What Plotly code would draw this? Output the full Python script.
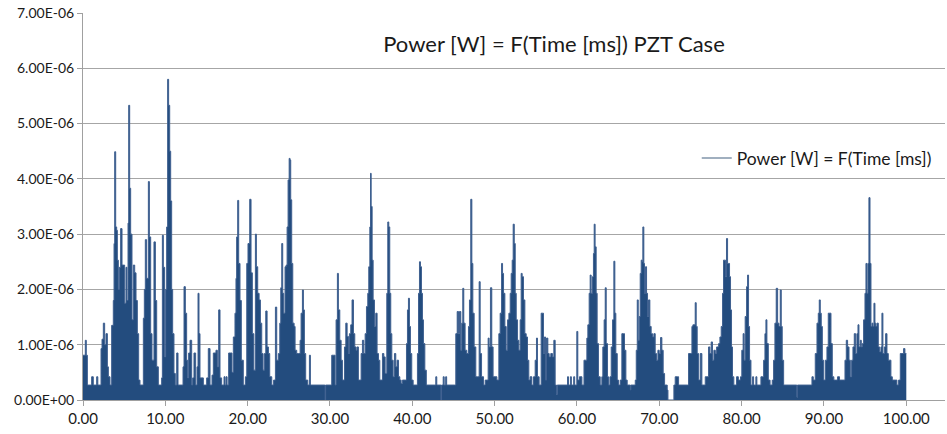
import plotly.graph_objects as go

# Power envelope: (time [ms], power [uW])
seg_0_20 = [(0.00,0.81),(0.28,1.08),(0.40,0.81),(0.53,0.27),(1.05,0.42),(1.25,0.27),(1.66,0.42),(1.80,0.27),
    (2.19,0.93),(2.31,1.10),(2.47,1.39),(2.63,1.00),(2.79,1.20),(2.96,0.60),(3.08,0.42),(3.28,0.27),(3.48,1.35),
    (3.68,1.80),(3.77,2.83),(3.85,4.49),(3.97,3.13),(4.09,3.07),(4.17,2.53),(4.29,2.00),(4.41,2.40),(4.57,3.10),
    (4.74,2.44),(4.90,2.44),(5.06,1.75),(5.22,2.40),(5.34,1.80),(5.47,3.20),(5.55,5.33),(5.67,3.83),(5.79,3.00),
    (5.95,1.45),(6.11,2.44),(6.28,2.30),(6.44,1.80),(6.60,1.20),(6.76,0.36),(6.92,0.27),(7.33,1.48),(7.45,2.00),
    (7.57,2.90),(7.73,2.20),(7.94,3.95),(8.06,2.95),(8.22,1.20),(8.38,0.72),(8.62,2.86),(8.79,1.80),(8.95,0.60),
    (9.15,0.27),(9.55,0.40),(9.64,2.98),(9.76,2.40),(9.92,0.78),(10.04,2.00),(10.16,3.13),(10.28,5.80),(10.40,5.33),
    (10.53,4.50),(10.65,3.60),(10.77,2.00),(10.89,1.20),(11.05,0.48),(11.21,0.27),(11.38,0.85),(11.54,0.27),
    (12.15,0.60),(12.27,2.05),(12.43,1.57),(12.59,0.72),(12.71,0.40),(12.83,0.85),(13.00,1.08),(13.20,0.27),
    (13.32,0.40),(13.48,0.85),(13.68,0.27),(13.85,0.60),(13.97,1.93),(14.09,1.20),(14.21,0.40),(14.62,0.27),
    (15.02,0.40),(15.22,0.93),(15.43,0.27),(15.67,0.45),(15.83,0.85),(16.15,0.90),(16.32,0.60),(16.48,1.63),
    (16.64,0.40),(16.84,0.27),(17.13,0.42),(17.25,0.27),(17.37,0.42),(17.50,0.27),(17.69,0.85),(17.94,0.85),
    (18.10,0.50),(18.26,1.14),(18.46,1.57),(18.58,2.20),(18.66,2.95),(18.79,3.61),(18.91,2.47),(19.07,1.80),
    (19.23,0.72),(19.47,0.27),(19.72,0.42)]

seg_20_40 = [(19.89,2.47),(20.04,2.83),(20.25,3.63),(20.41,2.30),(20.57,1.20),(20.75,0.54),(20.94,3.00),
    (21.06,2.41),(21.22,1.93),(21.39,1.81),(21.55,1.39),(21.71,0.84),(21.87,0.54),(22.03,0.84),(22.20,1.61),
    (22.36,0.96),(22.52,0.84),(22.68,0.42),(22.93,0.27),(23.15,0.36),(23.37,1.68),(23.53,0.72),(23.73,0.84),
    (23.90,1.39),(24.02,2.03),(24.14,2.83),(24.26,1.93),(24.38,1.57),(24.54,2.41),(24.67,2.44),(24.79,3.13),
    (24.91,3.98),(25.04,4.37),(25.15,4.34),(25.23,3.62),(25.35,2.47),(25.48,1.39),(25.64,1.33),(25.76,0.90),
    (25.96,0.84),(26.16,0.84),(26.37,1.08),(26.49,1.57),(26.65,1.99),(26.77,1.63),(26.89,0.84),(27.05,0.36),
    (27.30,0.27),(27.50,0.81),(27.62,0.27),(29.35,0.27),(29.41,0.00),(29.47,0.27),(30.21,0.81),(30.42,0.81),
    (30.62,0.27),(30.74,1.45),(30.90,2.29),(31.02,1.63),(31.19,1.08),(31.35,0.72),(31.51,0.36),(31.76,0.96),
    (31.92,1.39),(32.08,1.15),(32.24,0.84),(32.36,1.20),(32.52,1.36),(32.68,1.81),(32.85,1.20),(33.01,0.96),
    (33.17,0.90),(33.29,0.96),(33.45,0.36),(33.62,0.36),(33.78,0.84),(33.94,1.08),(34.10,0.84),(34.27,1.20),
    (34.43,1.69),(34.59,1.93),(34.71,2.41),(34.84,3.13),(34.92,4.10),(35.00,3.50),(35.12,2.53),(35.24,1.81),
    (35.40,1.33),(35.56,1.57),(35.72,0.84),(35.89,0.72),(36.05,0.36),(36.21,0.36),(36.37,0.84),(36.54,0.78),
    (36.70,0.48),(36.90,1.93),(37.02,3.22),(37.14,3.13),(37.26,1.93),(37.38,1.20),(37.51,0.72),(37.67,0.42),
    (37.83,0.84),(37.99,0.60),(38.15,0.72),(38.32,0.42),(38.48,0.36),(38.64,0.30),(38.80,0.36),(39.13,0.36),
    (39.29,1.02),(39.41,1.63),(39.53,1.84),(39.65,1.33),(39.77,0.84),(39.93,0.36)]

seg_40_60 = [(40.10,0.27),(40.62,0.84),(40.75,1.93),(40.87,2.50),(40.99,2.41),(41.11,1.93),(41.23,1.45),
    (41.35,1.02),(41.52,0.54),(41.70,0.27),(42.85,0.42),(42.97,0.27),(43.48,0.00),(43.55,0.27),(43.75,0.42),
    (43.87,0.27),(44.05,0.42),(44.17,0.27),(45.16,0.27),(45.28,1.20),(45.45,1.60),(45.61,1.20),(45.73,1.60),
    (45.89,0.90),(46.00,1.39),(46.13,2.02),(46.25,1.39),(46.41,0.90),(46.62,0.84),(46.82,1.33),(46.94,1.81),
    (47.10,3.63),(47.23,2.47),(47.35,1.57),(47.51,0.96),(47.71,0.42),(47.92,0.42),(48.12,2.14),(48.24,0.84),
    (48.41,0.42),(48.65,0.27),(48.85,0.36),(49.05,0.36),(49.21,1.12),(49.33,0.96),(49.49,2.03),(49.65,0.96),
    (49.81,0.42),(50.05,0.42),(50.27,0.36),(50.51,1.20),(50.67,1.57),(50.84,2.47),(50.96,2.29),(51.08,1.93),
    (51.24,1.33),(51.40,0.90),(51.57,1.45),(51.73,1.57),(51.89,1.93),(52.01,2.29),(52.13,2.53),(52.25,3.18),
    (52.38,2.83),(52.50,1.93),(52.62,1.45),(52.78,1.08),(52.94,0.90),(53.10,1.45),(53.22,2.29),(53.34,2.23),
    (53.50,1.81),(53.67,1.20),(53.83,1.14),(53.99,0.72),(54.15,0.36),(54.31,0.42),(54.52,0.27),(54.72,0.42),
    (54.92,0.72),(55.08,1.12),(55.20,0.42),(55.40,0.27),(55.65,1.57),(55.81,1.57),(55.93,0.84),(56.05,1.14),
    (56.18,0.36),(56.30,1.12),(56.46,0.84),(56.62,0.78),(56.82,0.84),(57.02,0.78),(57.19,1.08),(57.35,0.27),
    (57.51,0.10),(57.60,0.27),(58.85,0.42),(58.97,0.27),(59.20,0.42),(59.32,0.27),(59.60,0.42),(59.72,0.27),
    (59.98,1.24),(60.10,0.36)]

seg_60_80 = [(60.30,0.42),(60.60,0.27),(60.85,0.72),(61.05,0.72),(61.20,1.12),(61.32,1.36),(61.48,1.93),
    (61.60,2.26),(61.72,1.93),(61.88,2.23),(62.00,2.65),(62.09,3.18),(62.20,2.77),(62.33,1.93),(62.45,1.02),
    (62.61,0.42),(62.82,0.27),(63.02,0.42),(63.14,0.96),(63.30,1.45),(63.43,2.03),(63.55,1.02),(63.71,0.42),
    (63.83,0.27),(64.00,0.42),(64.16,0.96),(64.32,1.45),(64.48,2.51),(64.60,1.57),(64.72,0.84),(64.89,0.36),
    (65.05,0.27),(65.25,0.36),(65.45,1.20),(65.65,1.20),(65.77,0.90),(65.94,0.36),(66.10,0.27),(66.48,0.18),
    (66.55,0.27),(67.08,0.36),(67.20,0.90),(67.32,1.81),(67.44,1.08),(67.56,1.51),(67.68,2.29),(67.80,2.53),
    (67.92,2.50),(68.00,3.13),(68.12,2.47),(68.20,1.93),(68.33,2.41),(68.45,1.93),(68.57,1.51),(68.69,1.81),
    (68.85,1.33),(69.01,1.20),(69.18,1.14),(69.34,1.20),(69.50,0.84),(69.66,0.72),(69.83,0.90),(69.99,0.84),
    (70.15,1.13),(70.31,0.90),(70.47,0.48),(70.64,0.27),(70.96,0.18),(71.05,0.00),(71.70,0.00),(71.77,0.27),
    (71.93,0.42),(72.20,0.42),(72.34,0.27),(73.40,0.27),(73.55,0.84),(73.75,0.84),(73.96,1.33),(74.08,1.36),
    (74.20,1.36),(74.36,1.76),(74.48,1.33),(74.60,0.84),(74.77,0.36),(74.97,0.84),(75.17,0.27),(75.58,0.42),
    (75.78,0.42),(75.98,0.96),(76.14,0.84),(76.30,1.05),(76.46,0.72),(76.63,0.90),(76.80,0.84),(76.96,0.96),
    (77.20,1.02),(77.36,1.14),(77.52,1.33),(77.68,1.93),(77.80,2.53),(77.92,2.53),(78.04,2.23),(78.16,2.92),
    (78.29,2.47),(78.41,2.47),(78.53,2.23),(78.65,1.63),(78.77,0.96),(78.89,0.42),(79.05,0.27),(79.38,0.42),
    (79.60,0.36),(79.86,0.42)]

seg_80_100 = [(80.02,0.90),(80.18,1.20),(80.30,0.72),(80.43,1.51),(80.60,2.05),(80.72,2.26),(80.84,1.33),
    (80.96,0.72),(81.13,0.27),(81.33,0.42),(81.45,0.27),(81.73,0.42),(81.85,0.27),(82.34,0.42),(82.50,0.42),
    (82.67,0.72),(82.83,1.20),(82.95,1.45),(83.07,1.02),(83.24,0.36),(83.45,0.27),(83.72,0.36),(83.88,0.72),
    (84.04,1.39),(84.20,2.02),(84.37,1.39),(84.53,1.33),(84.69,1.99),(84.81,1.33),(84.93,0.72),(85.10,0.27),
    (86.65,0.27),(86.71,0.05),(86.78,0.27),(88.54,0.42),(88.70,0.36),(88.94,0.84),(89.15,1.39),(89.31,1.57),
    (89.43,1.81),(89.55,1.57),(89.67,1.33),(89.80,0.72),(89.96,0.36),(90.16,0.72),(90.36,0.96),(90.52,1.57),
    (90.69,1.57),(90.85,1.02),(91.01,0.42),(91.20,0.36),(91.41,0.36),(91.65,0.42),(91.89,0.36),(92.30,0.36),
    (92.55,0.72),(92.71,1.08),(92.87,0.96),(93.04,0.72),(93.20,0.42),(93.36,0.72),(93.52,0.96),(93.68,1.20),
    (93.84,0.84),(94.00,1.20),(94.13,1.36),(94.25,0.96),(94.41,1.08),(94.53,0.96),(94.66,1.02),(94.81,1.45),
    (94.98,1.93),(95.10,2.47),(95.22,1.93),(95.34,2.47),(95.46,3.66),(95.59,2.47),(95.71,1.33),(95.83,1.39),
    (95.95,1.33),(96.07,1.75),(96.19,1.39),(96.31,1.33),(96.44,1.39),(96.60,0.96),(96.76,0.87),(96.92,0.96),
    (97.04,1.57),(97.16,0.84),(97.33,0.96),(97.49,1.20),(97.65,0.84),(97.81,0.72),(97.97,0.72),(98.13,0.42),
    (98.30,0.36),(98.66,0.36),(98.86,0.27),(99.06,0.36),(99.27,0.84),(99.47,0.84),(99.67,0.93),(99.83,0.84),
    (100.00,0.84)]

x_ticks = [0, 10, 20, 30, 40, 50, 60, 70, 80, 90, 100]
x_tick_labels = ["0.00", "10.00", "20.00", "30.00", "40.00", "50.00", "60.00", "70.00", "80.00", "90.00", "100.00"]
y_ticks_uw = [0, 1, 2, 3, 4, 5, 6, 7]
y_tick_labels = ["0.00E+00", "1.00E-06", "2.00E-06", "3.00E-06", "4.00E-06", "5.00E-06", "6.00E-06", "7.00E-06"]

series_name = "Power [W] = F(Time [ms])"
chart_title = "Power [W] = F(Time [ms]) PZT Case"

points = seg_0_20 + seg_20_40 + seg_40_60 + seg_60_80 + seg_80_100
time_ms = [p[0] for p in points]
power_w = [p[1] * 1e-6 for p in points]

FONT = "Lato, 'Open Sans', sans-serif"

fig = go.Figure()
fig.add_trace(go.Scatter(
    x=time_ms, y=power_w, mode="lines", line=dict(color="#3F6090", width=1, shape="hv"),
    fill="tozeroy", fillcolor="#234C7E", showlegend=False, hoverinfo="skip"))
# legend entry drawn as a plain line like the original
fig.add_trace(go.Scatter(
    x=[None], y=[None], mode="lines", name=series_name,
    line=dict(color="#8094AA", width=1.5), showlegend=True))

fig.update_layout(
    width=947, height=434,
    margin=dict(l=83, r=2, t=13, b=34, autoexpand=False),
    paper_bgcolor="white", plot_bgcolor="white",
    font=dict(family=FONT, size=15, color="#1a1a1a"),
    title=dict(text=chart_title, x=0.585, xanchor="center", y=0.898, yanchor="middle",
               font=dict(family=FONT, size=22, color="#1a1a1a")),
    legend=dict(x=0.712, y=0.625, xanchor="left", yanchor="middle",
                bgcolor="rgba(0,0,0,0)", font=dict(family=FONT, size=17.5, color="#1a1a1a"),
                itemwidth=30),
    xaxis=dict(range=[0, 104.7], tickvals=x_ticks, ticktext=x_tick_labels, automargin=False,
               showgrid=False, zeroline=False, showline=True, linecolor="#A0A0A0", linewidth=1,
               ticks="outside", ticklen=5, tickcolor="#A0A0A0", tickfont=dict(size=15)),
    yaxis=dict(range=[0, 7e-6], tickvals=[v * 1e-6 for v in y_ticks_uw], ticktext=y_tick_labels,
               automargin=False,
               showgrid=True, gridcolor="#A6A6A6", gridwidth=1, zeroline=False,
               showline=True, linecolor="#A0A0A0", linewidth=1,
               ticks="outside", ticklen=5, tickcolor="#A0A0A0", tickfont=dict(size=14)),
)

# remove the browser's default 8px body margin so the figure sits at the page origin
fig.write_html("out.html", config={"displayModeBar": False},
               post_script="document.body.style.margin='0';")
